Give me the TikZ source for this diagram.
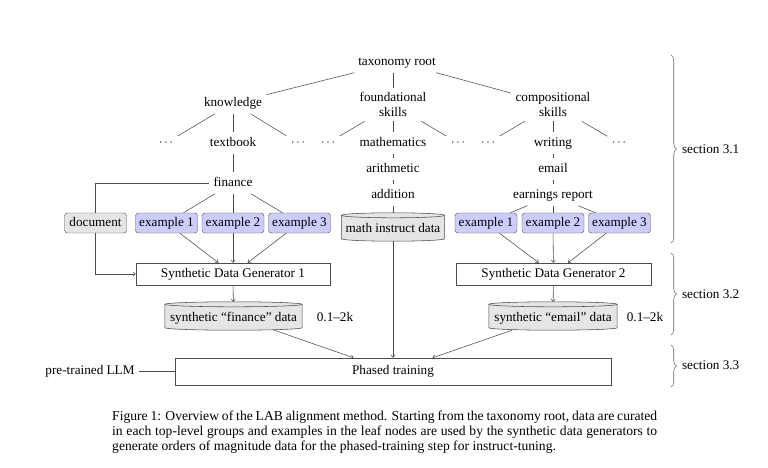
\documentclass[tikz,border=0pt]{standalone}
\usepackage{fontspec}
\setmainfont{Liberation Serif}
\usetikzlibrary{arrows.meta,decorations.pathreplacing,backgrounds,calc}
\newcommand\dfont{\fontsize{13.2}{15}\selectfont}
\newcommand\cfont{\fontsize{13.6}{15}\selectfont}
\newcommand\cylbg[1]{%
  \begin{scope}[on background layer]
  \path[cylpath] let \p1=(#1.north west), \p2=(#1.south east) in
    (\x1,\y1-2.5pt) -- (\x1,\y2+2.5pt)
    arc[start angle=180,end angle=360,x radius={(\x2-\x1)/2},y radius=2.5pt]
    -- (\x2,\y1-2.5pt)
    arc[start angle=0,end angle=180,x radius={(\x2-\x1)/2},y radius=2.5pt] -- cycle;
  \draw[edge] let \p1=(#1.north west), \p2=(#1.south east) in
    (\x1,\y1-2.5pt) arc[start angle=180,end angle=360,x radius={(\x2-\x1)/2},y radius=2.5pt];
  \end{scope}}
\begin{document}
\begin{tikzpicture}[x=1pt,y=-1pt,
  every node/.style={font=\dfont},
  tnode/.style={text height=9.2pt,text depth=3pt,inner sep=4.4pt},
  twoline/.style={align=center,inner sep=4.4pt},
  dotsnode/.style={inner sep=4.4pt},
  exbox/.style={draw=black!70,fill=blue!20,rounded corners=3pt,minimum width=62pt,
    minimum height=20pt,inner xsep=2pt,inner ysep=0pt,text height=9.2pt,text depth=3pt},
  docbox/.style={exbox,fill=gray!20},
  genbox/.style={draw=black!70,line width=0.55pt,minimum width=194pt,minimum height=22pt,
    inner sep=0pt,text height=9.2pt,text depth=3pt},
  phasebox/.style={genbox,minimum width=436pt,minimum height=27pt},
  cylnode/.style={minimum height=28pt,inner xsep=2pt,inner ysep=0pt,text height=12.6pt,text depth=1.2pt},
  cylpath/.style={draw=black!70,fill=gray!20,line width=0.55pt},
  edge/.style={draw=black!70,line width=0.55pt},
  arr/.style={edge,-{To[length=3pt,width=4.5pt]}},
  bracestyle/.style={draw=black!60,line width=0.55pt,decorate,decoration={brace,amplitude=5.5pt}},
  capline/.style={font=\cfont,anchor=base west,inner sep=0pt}
]
\useasboundingbox (0,0) rectangle (768,468);

% tree
\node[tnode] (root) at (397,62) {taxonomy root};
\node[tnode] (know) at (233,103) {knowledge};
\node[twoline] (found) at (393,104.5) {foundational\\skills};
\node[twoline] (comp) at (553,104.5) {compositional\\skills};

\node[dotsnode] (d1) at (166,143) {$\cdots$};
\node[tnode] (tb) at (233,143) {textbook};
\node[dotsnode] (d2) at (298,143) {$\cdots$};
\node[dotsnode] (d3) at (328,143) {$\cdots$};
\node[tnode] (math) at (393,143) {mathematics};
\node[dotsnode] (d4) at (458,143) {$\cdots$};
\node[dotsnode] (d5) at (488,143) {$\cdots$};
\node[tnode] (writ) at (553,143) {writing};
\node[dotsnode] (d6) at (619,143) {$\cdots$};

\node[tnode] (arith) at (393,169) {arithmetic};
\node[tnode] (add) at (393,195) {addition};
\node[tnode] (email) at (553,169) {email};
\node[tnode] (earn) at (553,195) {earnings report};
\node[tnode] (fin) at (233,183) {finance};

% examples
\node[docbox] (doc) at (95.5,223) {document};
\node[exbox] (ex1) at (166.5,223) {example 1};
\node[exbox] (ex2) at (233,223) {example 2};
\node[exbox] (ex3) at (299.5,223) {example 3};
\node[exbox] (rx1) at (486,223) {example 1};
\node[exbox] (rx2) at (553,223) {example 2};
\node[exbox] (rx3) at (619.5,223) {example 3};

\node[cylnode,minimum width=103pt] (mdata) at (393,227) {math instruct data};
\cylbg{mdata}

% generators
\node[genbox] (gen1) at (233,274) {Synthetic Data Generator 1};
\node[genbox,minimum width=195pt] (gen2) at (553.5,274) {Synthetic Data Generator 2};

\node[cylnode,minimum width=137pt] (fd) at (233.5,316) {synthetic “finance” data};
\cylbg{fd}
\node[cylnode,minimum width=128pt] (ed) at (553,316) {synthetic “email” data};
\cylbg{ed}
\node[tnode] (n1) at (335,318.5) {0.1–2k};
\node[tnode] (n2) at (645,318.5) {0.1–2k};

\node[phasebox] (phase) at (393,371.5) {Phased training};
\node[tnode] (llm) at (90,371.5) {pre-trained LLM};

% tree edges
\draw[edge] (root) -- (know);
\draw[edge] (found.north |- root.south) -- (found);
\draw[edge] (root) -- (comp);
\draw[edge] (know) -- (d1);
\draw[edge] (know) -- (tb);
\draw[edge] (know) -- (d2);
\draw[edge] (found) -- (d3);
\draw[edge] (found) -- (math);
\draw[edge] (found) -- (d4);
\draw[edge] (comp) -- (d5);
\draw[edge] (comp) -- (writ);
\draw[edge] (comp) -- (d6);
\draw[edge] (tb) -- (fin);
\draw[edge] (math) -- (arith);
\draw[edge] (arith) -- (add);
\draw[edge] (add) -- (mdata);
\draw[edge] (writ) -- (email);
\draw[edge] (email) -- (earn);
\foreach \e in {ex1,ex2,ex3} {\draw[edge] (fin) -- (\e); \draw[arr] (\e) -- (gen1);}
\foreach \e in {rx1,rx2,rx3} {\draw[edge] (earn) -- (\e); \draw[arr] (\e) -- (gen2);}
\draw[edge] (fin.west) -| (doc.north);
\draw[arr] (doc.south) |- (gen1.west);
\draw[arr] (gen1) -- (fd);
\draw[arr] (gen2) -- (ed);
\draw[arr] (fd) -- (phase);
\draw[arr] (ed) -- (phase);
\draw[arr] (mdata) -- (phase);
\draw[edge] (llm) -- (phase);

% braces
\draw[bracestyle] (671,55) -- (671,243);
\draw[bracestyle] (671,253) -- (671,335);
\draw[bracestyle] (671,345) -- (671,387);
\node[tnode,anchor=west] (s1) at (677.5,150) {section 3.1};
\node[tnode,anchor=west] (s2) at (677.5,295) {section 3.2};
\node[tnode,anchor=west] (s3) at (677.5,366) {section 3.3};

% caption
\node[capline] (c1) at (112,420) {\makebox[545pt][s]{Figure 1: Overview of the LAB alignment method. Starting from the taxonomy root, data are curated}};
\node[capline] (c2) at (112,435) {\makebox[545pt][s]{in each top-level groups and examples in the leaf nodes are used by the synthetic data generators to}};
\node[capline] (c3) at (112,450) {generate orders of magnitude data for the phased-training step for instruct-tuning.};
\end{tikzpicture}
\end{document}
